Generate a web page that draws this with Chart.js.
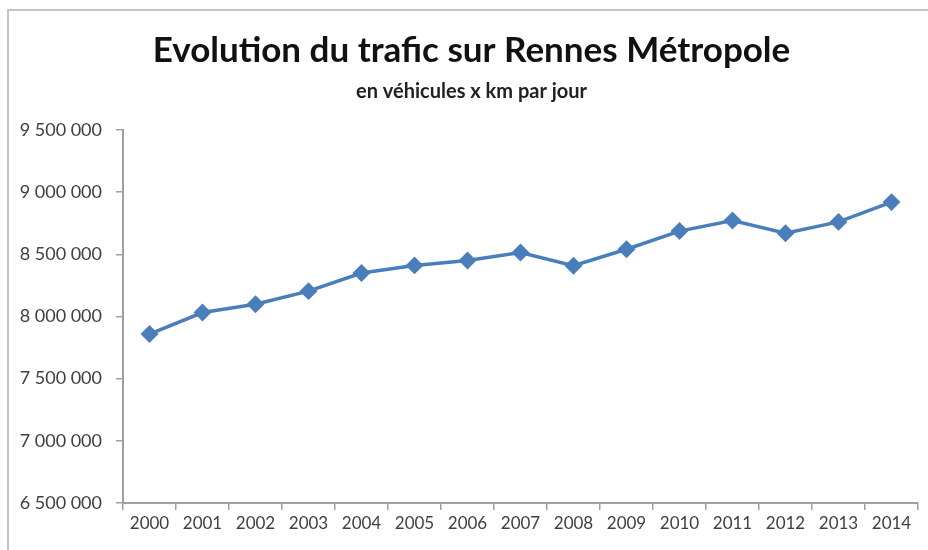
<!DOCTYPE html>
<html lang="fr">
<head>
    <meta charset="UTF-8">
    <title>Evolution du trafic sur Rennes Métropole</title>
    <script src="https://cdn.jsdelivr.net/npm/chart.js@4.4.1/dist/chart.umd.min.js"></script>
    <style>
        body { margin: 0; background: #fff; overflow: hidden; }
        #wrap { position: relative; width: 928px; height: 550px; }
        #frame { position: absolute; left: 7px; top: 9px; width: 1000px; height: 1000px;
                 border: 2px solid #c4c4c4; box-sizing: border-box; }
        canvas { position: absolute; left: 0; top: 0; }
    </style>
</head>
<body>
<div id="wrap">
    <div id="frame"></div>
    <canvas id="trafic" width="928" height="550"></canvas>
</div>
<script>
    // valeurs (véhicules x km par jour)
    var annees = ['2000', '2001', '2002', '2003', '2004', '2005', '2006', '2007',
                  '2008', '2009', '2010', '2011', '2012', '2013', '2014'];
    var trafic = [7859000, 8032000, 8098000, 8204000, 8350000, 8411000, 8451000, 8514000,
                  8408000, 8541000, 8687000, 8772000, 8669000, 8761000, 8920000];
    var yMin = 6500000;
    var yMax = 9500000;
    var yStep = 500000;

    var bleu = '#4a7ebb';
    var gris = '#a0a0a0';

    function formatNombre(v) {
        return String(v).replace(/\B(?=(\d{3})+(?!\d))/g, ' ');
    }

    // le titre de l'original est un peu décalé vers la droite
    var decalageTitre = {
        id: 'decalageTitre',
        afterLayout: function (chart) {
            chart.boxes.forEach(function (box) {
                if (box.axis === undefined && box.options && box.options.text !== undefined) {
                    box.left += 12;
                    box.right += 12;
                }
            });
        }
    };

    var ctx = document.getElementById('trafic').getContext('2d');
    var chart = new Chart(ctx, {
        type: 'line',
        data: {
            labels: annees,
            datasets: [{
                data: trafic,
                borderColor: bleu,
                backgroundColor: bleu,
                borderWidth: 3.5,
                pointStyle: 'rectRot',
                pointRadius: 6.5,
                pointHoverRadius: 6.5,
                tension: 0
            }]
        },
        options: {
            responsive: false,
            animation: false,
            layout: { padding: { left: 0, right: 9, top: 0, bottom: 0 } },
            plugins: {
                legend: { display: false },
                tooltip: { enabled: false },
                title: {
                    display: true,
                    text: 'Evolution du trafic sur Rennes Métropole',
                    color: '#111',
                    font: { family: 'Lato', size: 35, weight: 'bold' },
                    padding: { top: 30, bottom: 8 }
                },
                subtitle: {
                    display: true,
                    text: 'en véhicules x km par jour',
                    color: '#222',
                    font: { family: 'Lato', size: 20, weight: 'bold' },
                    padding: { top: 0, bottom: 26 }
                }
            },
            scales: {
                x: {
                    offset: true,
                    grid: { offset: true, drawOnChartArea: false, drawTicks: true, tickLength: 7, color: gris, lineWidth: 1.5 },
                    border: { color: gris, width: 2 },
                    ticks: { color: '#404040', font: { family: 'Lato', size: 17 }, padding: 3, maxRotation: 0, autoSkip: false },
                    afterFit: function (scale) { scale.height = 47; }
                },
                y: {
                    min: yMin,
                    max: yMax,
                    grid: { drawOnChartArea: false, drawTicks: true, tickLength: 7, color: gris, lineWidth: 1.5 },
                    border: { color: gris, width: 2 },
                    ticks: {
                        stepSize: yStep,
                        color: '#404040',
                        font: { family: 'Lato', size: 18 },
                        padding: 14,
                        callback: function (v) { return formatNombre(v); }
                    },
                    afterFit: function (scale) { scale.width = 123; }
                }
            }
        },
        plugins: [decalageTitre]
    });
</script>
</body>
</html>
